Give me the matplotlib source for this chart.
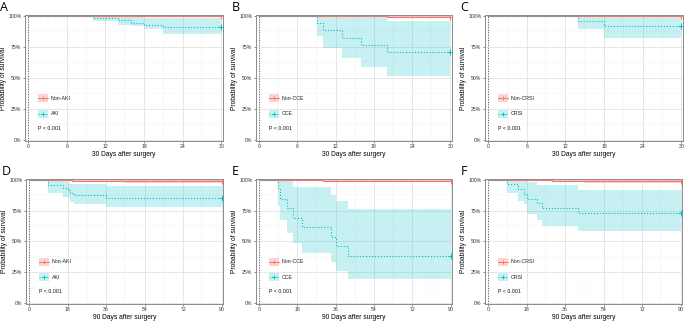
import matplotlib
matplotlib.use("Agg")
import matplotlib.pyplot as plt
from matplotlib.patches import Rectangle
from matplotlib.ticker import FixedLocator, MultipleLocator

plt.rcParams['font.family'] = ['Liberation Sans', 'DejaVu Sans']

# ---------------- data ----------------
panel_letters = ["A", "B", "C", "D", "E", "F"]
group_names = [("Non-AKI", "AKI"), ("Non-CCE", "CCE"), ("Non-CRSI", "CRSI"),
               ("Non-AKI", "AKI"), ("Non-CCE", "CCE"), ("Non-CRSI", "CRSI")]
horizons = [30, 30, 30, 90, 90, 90]
xticks30 = [0, 6, 12, 18, 24, 30]
xticks90 = [0, 18, 36, 54, 72, 90]
yticks = [0, 0.25, 0.5, 0.75, 1.0]
ytick_labels = ["0%", "25%", "50%", "75%", "100%"]
p_text = "P < 0.001"

# Panel A (30 d, AKI)
nonA_time = [0, 8, 18, 24]
nonA_surv = [1.0, 0.999, 0.997, 0.995]
nonA_lower = [1.0, 0.996, 0.990, 0.986]
nonA_upper = [1.0, 1.0, 1.0, 1.0]
akiA_time = [0, 10, 14, 16, 18, 21]
akiA_surv = [1.0, 0.981, 0.962, 0.943, 0.925, 0.906]
akiA_lower = [1.0, 0.957, 0.925, 0.915, 0.895, 0.850]
akiA_upper = [1.0, 1.0, 0.999, 0.990, 0.985, 0.978]

# Panel B (30 d, CCE)
nonB_time = [0, 8, 20]
nonB_surv = [1.0, 0.997, 0.992]
nonB_lower = [1.0, 0.990, 0.979]
nonB_upper = [1.0, 1.0, 1.0]
cceB_time = [0, 9, 10, 13, 16, 20]
cceB_surv = [1.0, 0.941, 0.882, 0.824, 0.765, 0.706]
cceB_lower = [1.0, 0.839, 0.743, 0.662, 0.590, 0.517]
cceB_upper = [1.0, 1.0, 1.0, 1.0, 1.0, 0.957]

# Panel C (30 d, CRSI)
nonC_time = [0, 14, 25]
nonC_surv = [1.0, 0.997, 0.995]
nonC_lower = [1.0, 0.992, 0.988]
nonC_upper = [1.0, 1.0, 1.0]
crsiC_time = [0, 14, 18]
crsiC_surv = [1.0, 0.958, 0.917]
crsiC_lower = [1.0, 0.890, 0.823]
crsiC_upper = [1.0, 1.0, 0.995]

# Panel D (90 d, AKI)
nonD_time = [0, 5, 12, 20, 30, 45]
nonD_surv = [1.0, 0.998, 0.995, 0.993, 0.991, 0.990]
nonD_lower = [1.0, 0.994, 0.988, 0.984, 0.979, 0.975]
nonD_upper = [1.0, 1.0, 1.0, 0.999, 0.998, 0.997]
akiD_time = [0, 9, 16, 18, 19, 21, 36]
akiD_surv = [1.0, 0.958, 0.937, 0.916, 0.895, 0.874, 0.853]
akiD_lower = [1.0, 0.889, 0.860, 0.848, 0.820, 0.807, 0.775]
akiD_upper = [1.0, 1.0, 1.0, 0.975, 0.962, 0.962, 0.950]

# Panel E (90 d, CCE)
nonE_time = [0, 6, 15, 30, 50]
nonE_surv = [1.0, 0.998, 0.996, 0.993, 0.991]
nonE_lower = [1.0, 0.995, 0.990, 0.986, 0.982]
nonE_upper = [1.0, 1.0, 1.0, 1.0, 0.999]
cceE_time = [0, 9, 10, 13, 16, 20, 34, 36, 42]
cceE_surv = [1.0, 0.923, 0.846, 0.769, 0.692, 0.615, 0.538, 0.462, 0.385]
cceE_lower = [1.0, 0.790, 0.674, 0.570, 0.484, 0.402, 0.336, 0.258, 0.196]
cceE_upper = [1.0, 1.0, 1.0, 1.0, 0.945, 0.945, 0.880, 0.826, 0.760]

# Panel F (90 d, CRSI)
nonF_time = [0, 5, 15, 30, 45]
nonF_surv = [1.0, 0.998, 0.995, 0.992, 0.990]
nonF_lower = [1.0, 0.994, 0.988, 0.980, 0.973]
nonF_upper = [1.0, 1.0, 1.0, 1.0, 1.0]
crsiF_time = [0, 9, 14, 17, 18, 23, 25, 42]
crsiF_surv = [1.0, 0.962, 0.923, 0.885, 0.846, 0.808, 0.769, 0.731]
crsiF_lower = [1.0, 0.892, 0.830, 0.803, 0.722, 0.676, 0.622, 0.581]
crsiF_upper = [1.0, 1.0, 1.0, 1.0, 0.985, 0.955, 0.955, 0.920]

panels = [
    ((nonA_time, nonA_surv, nonA_lower, nonA_upper), (akiA_time, akiA_surv, akiA_lower, akiA_upper)),
    ((nonB_time, nonB_surv, nonB_lower, nonB_upper), (cceB_time, cceB_surv, cceB_lower, cceB_upper)),
    ((nonC_time, nonC_surv, nonC_lower, nonC_upper), (crsiC_time, crsiC_surv, crsiC_lower, crsiC_upper)),
    ((nonD_time, nonD_surv, nonD_lower, nonD_upper), (akiD_time, akiD_surv, akiD_lower, akiD_upper)),
    ((nonE_time, nonE_surv, nonE_lower, nonE_upper), (cceE_time, cceE_surv, cceE_lower, cceE_upper)),
    ((nonF_time, nonF_surv, nonF_lower, nonF_upper), (crsiF_time, crsiF_surv, crsiF_lower, crsiF_upper)),
]

RED = "#F8766D"
TEAL = "#00BFC4"

# ---------------- layout (pixel boxes) ----------------
W, H = 685, 321
boxes = [(25, 15, 223, 141), (256, 15, 452, 141), (485, 15, 683, 141),
         (26, 179, 223, 304), (256, 179, 452, 304), (485, 179, 682, 304)]

fig = plt.figure(figsize=(W / 100, H / 100), dpi=100)


def km(ax, data, tmax, color, ls, fill_alpha):
    t, s, lo, hi = data
    tt = list(t) + [tmax]
    ss = list(s) + [s[-1]]
    ll = list(lo) + [lo[-1]]
    hh = list(hi) + [hi[-1]]
    ax.fill_between(tt, ll, hh, step="post", color=color, alpha=fill_alpha,
                    linewidth=0, zorder=2)
    ax.step(tt, ss, where="post", color=color, linestyle=ls, linewidth=0.8,
            zorder=3)
    ax.plot([tmax], [s[-1]], marker="+", color=color, markersize=4,
            markeredgewidth=0.7, zorder=4)


for i, ((x0, y0, x1, y1), letter, names, tmax, (non, grp)) in enumerate(
        zip(boxes, panel_letters, group_names, horizons, panels)):
    ax = fig.add_axes([x0 / W, 1 - y1 / H, (x1 - x0) / W, (y1 - y0) / H])
    ticks = xticks30 if tmax == 30 else xticks90
    step = ticks[1] - ticks[0]
    pad_l = 0.5 if tmax == 30 else 1.4
    pad_r = 0.25 if tmax == 30 else 0.6
    ax.set_xlim(-pad_l, tmax + pad_r)
    ax.set_ylim(-0.008, 1.006)
    ax.xaxis.set_major_locator(FixedLocator(ticks))
    ax.xaxis.set_minor_locator(MultipleLocator(step / 2))
    ax.yaxis.set_major_locator(FixedLocator(yticks))
    ax.yaxis.set_minor_locator(MultipleLocator(0.125))
    ax.set_yticklabels(ytick_labels)
    ax.grid(which="major", color="#E3E3E3", linewidth=0.6, zorder=0)
    ax.grid(which="minor", color="#F0F0F0", linewidth=0.35, zorder=0)
    ax.set_axisbelow(True)
    for sp in ax.spines.values():
        sp.set_color("#8C8C8C")
        sp.set_linewidth(0.7)
    ax.tick_params(which="major", labelsize=3.7, length=1.5, width=0.4,
                   pad=1, colors="#333333", labelcolor="#333333")
    ax.tick_params(which="minor", length=0)

    ax.axvline(0, color="#555555", linestyle=":", linewidth=0.7, zorder=1)

    km(ax, non, tmax, RED, "-", 0.3)
    km(ax, grp, tmax, TEAL, ":", 0.22)

    ax.set_ylabel("Probability of survival", fontsize=4.8, labelpad=1)
    ax.set_xlabel(f"{tmax} Days after surgery", fontsize=4.8, labelpad=1)

    # legend drawn inside
    kw = 10 / (x1 - x0)
    kh = 8 / (y1 - y0)
    kx = (38 - 25) / 198
    for j, (name, color, ls, ky) in enumerate(
            [(names[0], RED, "-", 0.34), (names[1], TEAL, ":", 0.215)]):
        ax.add_patch(Rectangle((kx, ky - kh / 2), kw, kh, transform=ax.transAxes,
                               facecolor=color, alpha=0.3 if j == 0 else 0.22,
                               edgecolor="none", zorder=5))
        ax.plot([kx, kx + kw], [ky, ky], transform=ax.transAxes, color=color,
                linestyle=ls, linewidth=0.7, zorder=6)
        ax.plot([kx + kw / 2], [ky], transform=ax.transAxes, marker="+",
                color=color, markersize=3.5, markeredgewidth=0.6, zorder=6)
        ax.text(kx + kw + 0.015, ky, name, transform=ax.transAxes,
                fontsize=3.8, va="center", ha="left", color="#222222", zorder=6)
    ax.text(kx + 0.002, 0.103, p_text, transform=ax.transAxes, fontsize=3.8,
            va="center", ha="left", color="#111111")

    fig.text((x0 - 25) / W + 0.0005, 1 - (y0 - 15 + 1) / H, letter,
             fontsize=9, va="top", ha="left", family="Open Sans")

fig.savefig("out.png", dpi=100)
